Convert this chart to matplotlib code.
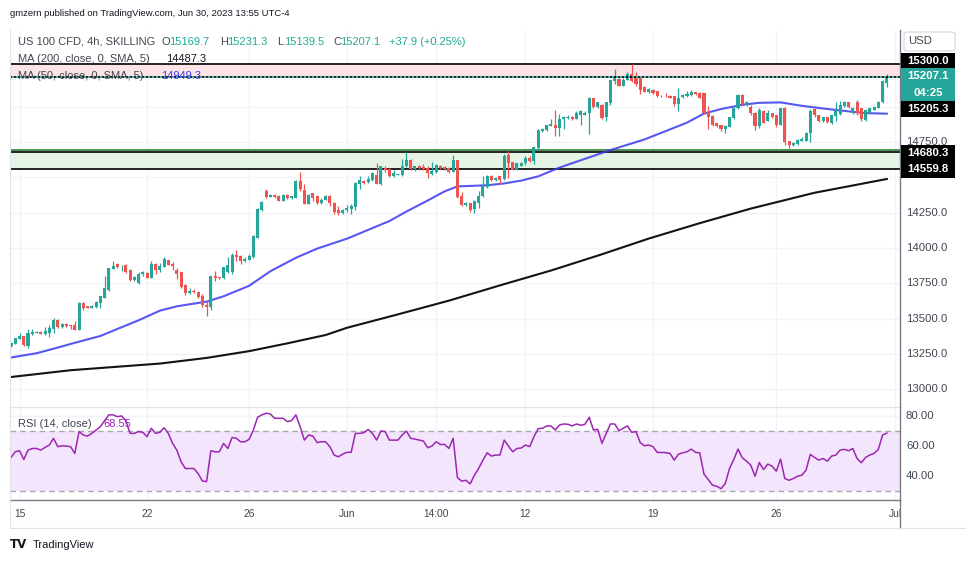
import numpy as np
import matplotlib.pyplot as plt
from matplotlib.patches import Rectangle, FancyBboxPatch
from matplotlib.transforms import blended_transform_factory

plt.rcParams['font.family'] = ['Liberation Sans', 'DejaVu Sans']

# ---- US 100 CFD 4h bars (bar 1 .. 207) ----
bar_open = [
    13305, 13319, 13358, 13377, 13305, 13394, 13401, 13408, 13389, 13401,
    13430, 13492, 13439, 13463, 13456, 13454, 13420, 13612, 13586, 13578,
    13581, 13607, 13648, 13703, 13852, 13886, 13862, 13876, 13847, 13775,
    13749, 13814, 13826, 13787, 13886, 13847, 13866, 13914, 13888, 13847,
    13828, 13737, 13679, 13696, 13689, 13660, 13598, 13583, 13799, 13792,
    13785, 13828, 13828, 13948, 13943, 13905, 13914, 13934, 14073, 14265,
    14399, 14363, 14375, 14370, 14332, 14375, 14351, 14356, 14471, 14409,
    14313, 14385, 14366, 14318, 14340, 14364, 14321, 14269, 14245, 14269,
    14276, 14286, 14454, 14473, 14464, 14478, 14518, 14449, 14568, 14559,
    14511, 14516, 14516, 14578, 14625, 14559, 14578, 14573, 14563, 14525,
    14535, 14582, 14573, 14568, 14540, 14620, 14364, 14302, 14317, 14274,
    14321, 14364, 14431, 14511, 14478, 14506, 14487, 14654, 14606, 14554,
    14582, 14597, 14635, 14616, 14706, 14824, 14834, 14862, 14872, 14848,
    14910, 14919, 14929, 14915, 14938, 14943, 14953, 15062, 14995, 15014,
    14924, 15024, 15178, 15195, 15147, 15190, 15228, 15209, 15199, 15138,
    15100, 15119, 15109, 15076, 15076, 15076, 15071, 15019, 15066, 15076,
    15081, 15100, 15095, 15095, 14962, 14934, 14881, 14872, 14843, 14858,
    14919, 14986, 15081, 15010, 15000, 14957, 14862, 14967, 14900, 14953,
    14938, 14872, 14991, 14753, 14730, 14734, 14758, 14758, 14810, 14981,
    14938, 14896, 14924, 14886, 14934, 14948, 15005, 15029, 14957, 15029,
    14986, 14905, 14962, 14976, 14991, 15029, 15169.7]
bar_high = [
    13335, 13362, 13396, 13380, 13425, 13425, 13412, 13410, 13439, 13454,
    13502, 13499, 13466, 13468, 13458, 13485, 13614, 13614, 13590, 13598,
    13624, 13662, 13799, 13860, 13905, 13893, 13878, 13883, 13852, 13804,
    13828, 13838, 13828, 13905, 13895, 13895, 13934, 13917, 13900, 13857,
    13830, 13742, 13715, 13708, 13696, 13672, 13624, 13799, 13838, 13795,
    13864, 13936, 13962, 13982, 13948, 13934, 13960, 14092, 14284, 14332,
    14414, 14380, 14380, 14375, 14378, 14378, 14370, 14478, 14538, 14452,
    14380, 14390, 14370, 14351, 14376, 14376, 14328, 14298, 14276, 14305,
    14312, 14464, 14506, 14478, 14506, 14535, 14601, 14582, 14582, 14563,
    14549, 14525, 14630, 14677, 14630, 14582, 14587, 14592, 14582, 14606,
    14592, 14587, 14578, 14573, 14658, 14625, 14397, 14326, 14321, 14340,
    14402, 14511, 14516, 14514, 14500, 14511, 14663, 14682, 14611, 14600,
    14606, 14649, 14649, 14720, 14839, 14848, 14872, 14910, 14976, 14948,
    14934, 14943, 14934, 14967, 14976, 14967, 15066, 15062, 15033, 15019,
    15033, 15190, 15266, 15199, 15199, 15242, 15304, 15247, 15204, 15142,
    15133, 15123, 15109, 15078, 15095, 15081, 15076, 15133, 15085, 15109,
    15114, 15104, 15100, 15095, 15005, 14938, 14886, 14872, 14872, 14929,
    14995, 15085, 15085, 15038, 15014, 14962, 14986, 14972, 14972, 14957,
    14943, 14991, 14995, 14758, 14749, 14768, 14782, 14820, 14981, 14991,
    14943, 14929, 14929, 14943, 15029, 15038, 15038, 15033, 14995, 15048,
    14991, 14981, 14991, 15005, 15038, 15190, 15231.3]
bar_low = [
    13300, 13317, 13355, 13305, 13295, 13386, 13398, 13392, 13382, 13372,
    13401, 13434, 13436, 13444, 13430, 13418, 13418, 13564, 13574, 13576,
    13578, 13578, 13646, 13698, 13850, 13857, 13835, 13826, 13768, 13763,
    13742, 13804, 13785, 13785, 13816, 13828, 13864, 13878, 13847, 13780,
    13720, 13667, 13677, 13684, 13648, 13581, 13521, 13559, 13766, 13782,
    13782, 13823, 13818, 13910, 13886, 13900, 13912, 13932, 14070, 14260,
    14356, 14358, 14356, 14330, 14330, 14348, 14348, 14354, 14404, 14308,
    14310, 14332, 14308, 14308, 14336, 14293, 14241, 14231, 14241, 14257,
    14241, 14269, 14416, 14454, 14459, 14473, 14454, 14445, 14540, 14502,
    14502, 14514, 14511, 14573, 14554, 14544, 14554, 14554, 14492, 14516,
    14530, 14559, 14554, 14530, 14535, 14355, 14298, 14298, 14255, 14250,
    14283, 14359, 14426, 14473, 14475, 14454, 14478, 14492, 14549, 14549,
    14578, 14587, 14606, 14592, 14701, 14820, 14829, 14862, 14791, 14791,
    14843, 14915, 14905, 14910, 14872, 14938, 14805, 14991, 14991, 14915,
    14896, 15014, 15160, 15142, 15145, 15185, 15176, 15147, 15090, 15100,
    15095, 15085, 15066, 15068, 15068, 15057, 15005, 14967, 15062, 15066,
    15071, 15081, 15057, 14948, 14843, 14862, 14853, 14829, 14815, 14853,
    14915, 14981, 15014, 15005, 14938, 14834, 14848, 14881, 14896, 14919,
    14853, 14867, 14730, 14706, 14720, 14725, 14753, 14753, 14749, 14929,
    14891, 14891, 14886, 14877, 14900, 14943, 15000, 14991, 14948, 14938,
    14896, 14900, 14957, 14972, 14986, 15024, 15139.5]
bar_close = [
    13329, 13360, 13377, 13312, 13396, 13406, 13408, 13394, 13413, 13434,
    13492, 13444, 13461, 13449, 13449, 13420, 13612, 13576, 13578, 13588,
    13617, 13658, 13713, 13857, 13871, 13866, 13866, 13828, 13775, 13794,
    13814, 13828, 13787, 13886, 13847, 13871, 13919, 13881, 13871, 13816,
    13722, 13679, 13696, 13689, 13655, 13593, 13583, 13799, 13785, 13785,
    13862, 13881, 13948, 13934, 13910, 13924, 13943, 14082, 14274, 14327,
    14361, 14375, 14361, 14332, 14375, 14351, 14366, 14476, 14414, 14313,
    14375, 14356, 14318, 14342, 14364, 14321, 14257, 14245, 14269, 14279,
    14293, 14459, 14478, 14459, 14487, 14530, 14454, 14582, 14554, 14511,
    14530, 14521, 14582, 14625, 14559, 14578, 14563, 14559, 14530, 14544,
    14587, 14563, 14559, 14540, 14620, 14359, 14302, 14321, 14269, 14331,
    14364, 14440, 14511, 14478, 14497, 14483, 14649, 14597, 14554, 14597,
    14597, 14635, 14616, 14715, 14834, 14843, 14872, 14877, 14848, 14915,
    14929, 14929, 14915, 14957, 14967, 14957, 15062, 14995, 15029, 14919,
    15033, 15185, 15200, 15147, 15190, 15228, 15180, 15157, 15114, 15104,
    15123, 15095, 15071, 15071, 15071, 15062, 15019, 15062, 15081, 15090,
    15104, 15085, 15062, 14957, 14929, 14872, 14862, 14843, 14862, 14924,
    14991, 15081, 15019, 15029, 14953, 14862, 14976, 14886, 14957, 14929,
    14872, 14986, 14749, 14725, 14739, 14763, 14772, 14810, 14967, 14938,
    14896, 14924, 14891, 14938, 14967, 15014, 15029, 15000, 14986, 14957,
    14910, 14976, 14986, 15000, 15033, 15180, 15207.1]
change_abs = 37.9
change_pct = 0.25

# moving averages (bar number, value)
ma50_bar = [1, 7, 11, 17, 22, 27, 31, 36, 40, 47, 51, 57, 62, 68, 73, 80, 86,
            90, 94, 99, 103, 106, 113, 117, 121, 125, 130, 136, 142, 150, 156,
            160, 164, 168, 173, 177, 182, 187, 192, 197, 202, 207]
ma50_val = [13225, 13255, 13287, 13337, 13377, 13439, 13488, 13556, 13587,
            13620, 13658, 13732, 13835, 13930, 13995, 14065, 14140, 14190,
            14257, 14335, 14400, 14435, 14443, 14456, 14476, 14506, 14568,
            14630, 14692, 14767, 14838, 14886, 14950, 14982, 15012, 15026,
            15029, 15005, 14986, 14969, 14953, 14949.3]
ma200_bar = [1, 15, 36, 47, 57, 66, 75, 80, 92, 104, 116, 128, 140, 151, 163,
             175, 190, 207]
ma200_val = [13087, 13135, 13182, 13222, 13270, 13325, 13384, 13435, 13530,
             13627, 13735, 13840, 13955, 14066, 14175, 14278, 14390, 14487.3]

# RSI(14)
rsi_bar = [1, 2, 3, 4, 5, 6, 7, 8, 9, 10, 11, 12, 13, 14, 15, 16, 17, 18, 19,
           20, 22, 24, 25, 26, 27, 28, 29, 30, 31, 32, 33, 34, 35, 36, 37, 38,
           39, 40, 41, 42, 44, 45, 46, 47, 48, 49, 50, 51, 52, 53, 54, 55, 56,
           57, 58, 59, 60, 61, 62, 63, 65, 66, 67, 68, 69, 70, 71, 72, 73, 74,
           75, 76, 77, 78, 79, 80, 81, 82, 83, 84, 85, 86, 87, 88, 89, 90, 92,
           93, 94, 95, 96, 98, 99, 100, 101, 102, 103, 104, 105, 106, 107, 108,
           109, 110, 111, 112, 113, 114, 115, 116, 117, 118, 119, 120, 121,
           122, 123, 124, 125, 126, 127, 128, 129, 130, 131, 132, 133, 134,
           135, 136, 137, 138, 139, 140, 141, 142, 143, 144, 145, 146, 147,
           148, 149, 150, 151, 152, 153, 155, 156, 157, 158, 159, 160, 161,
           162, 163, 164, 165, 166, 167, 168, 169, 170, 171, 172, 173, 174,
           175, 176, 177, 178, 179, 180, 181, 182, 183, 184, 185, 186, 187,
           188, 189, 190, 191, 192, 193, 194, 195, 196, 197, 198, 199, 200,
           201, 202, 203, 204, 205, 206, 207]
rsi_val = [52.3, 56.1, 56.8, 50.9, 57.2, 58.3, 58.3, 57.2, 59.0, 60.6, 65.1,
           59.5, 60.1, 59.9, 59.5, 55.0, 69.6, 67.3, 66.6, 68.4, 72.9, 80.8,
           80.8, 79.6, 80.1, 77.0, 68.4, 68.4, 69.6, 69.1, 66.2, 71.8, 68.4,
           69.1, 72.2, 68.4, 61.7, 57.2, 49.4, 44.9, 44.9, 41.5, 36.6, 36.1,
           56.8, 56.1, 56.1, 61.7, 58.3, 65.7, 65.1, 62.8, 62.8, 64.4, 70.7,
           79.2, 80.8, 81.9, 81.4, 78.5, 78.5, 76.3, 77.0, 80.8, 72.9, 63.9,
           67.3, 66.6, 62.2, 62.8, 62.8, 59.5, 53.9, 52.7, 54.5, 55.7, 55.7,
           68.4, 68.4, 68.9, 71.1, 68.4, 63.9, 70.0, 69.6, 63.9, 63.9, 67.3,
           70.0, 65.1, 64.6, 63.3, 58.8, 59.9, 62.8, 61.0, 61.0, 58.3, 65.1,
           38.8, 36.4, 37.0, 34.6, 40.4, 45.0, 50.5, 55.4, 53.2, 53.9, 53.9,
           63.9, 59.9, 56.1, 58.3, 58.6, 60.6, 59.5, 66.2, 71.6, 71.8, 73.4,
           73.4, 70.7, 74.0, 74.7, 74.5, 73.4, 74.7, 73.8, 74.5, 79.2, 70.7,
           71.1, 61.7, 68.4, 74.7, 74.7, 70.2, 71.8, 73.4, 69.1, 69.6, 62.2,
           60.1, 60.6, 59.5, 55.7, 55.5, 55.0, 50.5, 54.5, 55.4, 56.1, 57.9,
           55.7, 55.4, 41.1, 37.5, 33.7, 33.0, 31.4, 34.8, 44.9, 50.9, 57.9,
           52.1, 49.8, 47.1, 39.7, 48.9, 44.2, 47.8, 46.5, 43.1, 51.2, 38.2,
           37.0, 38.2, 39.7, 40.4, 43.8, 54.3, 52.3, 50.5, 51.6, 49.8, 53.2,
           53.9, 57.2, 57.7, 56.8, 58.3, 51.6, 48.7, 52.3, 53.9, 55.0, 57.7,
           67.3, 68.55]

tick_bar = [3, 33, 57, 80, 101, 122, 152, 181, 209]
tick_text = ['15', '22', '26', 'Jun', '14:00', '12', '19', '26', 'Jul']
price_grid = [13000, 13250, 13500, 13750, 14000, 14250, 14500, 14750, 15000, 15250]
price_shown = [13000, 13250, 13500, 13750, 14000, 14250, 14750]
rsi_grid = [40, 60, 80]
sell_zone = (15205.3, 15300.0)
buy_zone = (14559.8, 14680.3)
last_close = 15207.1

# ---- layout helpers (pixel -> figure fraction) ----
W, H = 970, 563
def fx(x):
    return x / W
def fy(y):
    return 1 - y / H

UP, DOWN = '#26a69a', '#ef5350'
GRID = '#f0f3fa'
TXT = '#434651'

fig = plt.figure(figsize=(W / 100, H / 100), dpi=100)
fig.patch.set_facecolor('white')

ax = fig.add_axes([fx(10), fy(406), fx(900) - fx(10), fy(30) - fy(406)])
rs = fig.add_axes([fx(10), fy(500), fx(900) - fx(10), fy(408) - fy(500)])
ta = fig.add_axes([fx(10), fy(528), fx(900) - fx(10), fy(500) - fy(528)])

xmin, xmax = 0.76, 210.1
for a in (ax, rs, ta):
    a.set_xlim(xmin, xmax)
    a.set_xticks([])
    a.set_yticks([])
    for s in a.spines.values():
        s.set_visible(False)
ax.set_ylim(12882, 15541)
rs.set_ylim(23.8, 85.4)
ta.set_ylim(0, 1)

# grid
for p in price_grid:
    ax.axhline(p, color=GRID, lw=1, zorder=0)
for b in tick_bar:
    ax.axvline(b, color=GRID, lw=1, zorder=0)
    rs.axvline(b, color=GRID, lw=1, zorder=0)
for g in rsi_grid:
    rs.axhline(g, color=GRID, lw=1, zorder=0)

# zones
ax.axhspan(sell_zone[0], sell_zone[1], color='#fce4e6', lw=0, zorder=1)
ax.axhline(sell_zone[1], color='black', lw=1.2, zorder=2)
ax.axhspan(buy_zone[0], buy_zone[1], color='#e6f4e6', lw=0, zorder=1)
ax.axhline(buy_zone[1] + 14, color='#2e7d32', lw=1.2, zorder=2)
ax.axhline(buy_zone[1], color='black', lw=1.2, zorder=2)
ax.axhline(buy_zone[0], color='black', lw=1.2, zorder=2)

# candles
idx = np.arange(1, len(bar_close) + 1)
o = np.array(bar_open); h = np.array(bar_high)
l = np.array(bar_low); c = np.array(bar_close)
col = np.where(c >= o, UP, DOWN)
ax.vlines(idx, l, h, colors=col, lw=0.9, zorder=4)
ax.bar(idx, np.maximum(np.abs(c - o), 6), bottom=np.minimum(o, c),
       width=0.72, color=col, lw=0, zorder=5)

# moving averages
ax.plot(ma200_bar, ma200_val, color='#131313', lw=1.5, zorder=3)
ax.plot(ma50_bar, ma50_val, color='#3a3af0', lw=1.5, alpha=0.85, zorder=3)

# last price line
ax.axhline(last_close, color='black', lw=1.2, ls=(0, (1.2, 1.2)), zorder=6)
ax.axhline(last_close, color=UP, lw=1.2, ls=(1.2, (1.2, 1.2)), zorder=6)

# RSI pane
rs.axhspan(30, 70, color='#f3e6fc', lw=0, zorder=1)
rs.axhline(70, color='#a8a8b0', lw=1, ls=(0, (4, 3)), zorder=2)
rs.axhline(30, color='#a8a8b0', lw=1, ls=(0, (4, 3)), zorder=2)
rs.plot(rsi_bar, rsi_val, color='#9c27b0', lw=1.1, zorder=3)

# time axis
for b, t in zip(tick_bar, tick_text):
    ta.text(b, 0.5, t, ha='center', va='center', fontsize=7.4, color=TXT,
            clip_on=True)

# frame lines
fig.add_artist(plt.Line2D([fx(10), fx(900)], [fy(500), fy(500)], color='#787b86', lw=1))
fig.add_artist(plt.Line2D([fx(10), fx(900)], [fy(407), fy(407)], color='#e0e3eb', lw=1))
fig.add_artist(plt.Line2D([fx(900.5), fx(900.5)], [fy(30), fy(528)], color='#787b86', lw=1))
fig.add_artist(plt.Line2D([fx(10), fx(965)], [fy(528), fy(528)], color='#e0e3eb', lw=0.8))
fig.add_artist(plt.Line2D([fx(10), fx(10)], [fy(30), fy(528)], color='#e0e3eb', lw=0.8))

# right price scale
tr = blended_transform_factory(fig.transFigure, ax.transData)
for p in price_shown:
    ax.text(fx(906), p, f'{p:.1f}', transform=tr, fontsize=8.2, color=TXT,
            va='center', ha='left', clip_on=False, zorder=4)
trr = blended_transform_factory(fig.transFigure, rs.transData)
for g in rsi_grid:
    rs.text(fx(906), g, f'{g:.2f}', transform=trr, fontsize=8.2, color=TXT,
            va='center', ha='left', clip_on=False)


def tag(y0, y1, fc, lines):
    fig.add_artist(Rectangle((fx(901), fy(y1)), fx(955) - fx(901), fy(y0) - fy(y1),
                             transform=fig.transFigure, fc=fc, ec='none', zorder=8))
    step = (y1 - y0) / len(lines)
    for k, s in enumerate(lines):
        fig.text(fx(928), fy(y0 + step * (k + 0.5)), s, ha='center', va='center',
                 fontsize=8.2, color='white', fontweight='bold', zorder=9)


tag(53, 68, 'black', [f'{sell_zone[1]:.1f}'])
tag(68, 101, UP, [f'{last_close:.1f}', '04:25'])
tag(101, 117, 'black', [f'{sell_zone[0]:.1f}'])
tag(145, 161, 'black', [f'{buy_zone[1]:.1f}'])
tag(161, 178, 'black', [f'{buy_zone[0]:.1f}'])

fig.add_artist(FancyBboxPatch((fx(904), fy(51)), fx(955) - fx(904), fy(32) - fy(51),
                              boxstyle='round,pad=0,rounding_size=0.004',
                              transform=fig.transFigure, fc='white', ec='#d1d4dc',
                              lw=0.8, zorder=10))
fig.text(fx(908), fy(41.5), 'USD', fontsize=8.2, color=TXT, va='center', zorder=11)

# header and legends
fig.text(fx(10), fy(13), 'gmzern published on TradingView.com, Jun 30, 2023 13:55 UTC-4',
         fontsize=6.8, color='#131722', va='center')
LEG = 8.0
fig.text(fx(18), fy(42), 'US 100 CFD, 4h, SKILLING', fontsize=LEG, color=TXT, va='center')
ohlc = [('O', f'{bar_open[-1]:.1f}', 162), ('H', f'{bar_high[-1]:.1f}', 220),
        ('L', f'{bar_low[-1]:.1f}', 277), ('C', f'{bar_close[-1]:.1f}', 333)]
for k, v, xp in ohlc:
    fig.text(fx(xp), fy(42), k, fontsize=LEG, color=TXT, va='center')
    fig.text(fx(xp + 7), fy(42), v, fontsize=LEG, color='#22ab94', va='center')
fig.text(fx(389), fy(42), f'+{change_abs:.1f} (+{change_pct:.2f}%)',
         fontsize=LEG, color='#22ab94', va='center')
fig.text(fx(18), fy(59), 'MA (200, close, 0, SMA, 5)', fontsize=LEG, color=TXT, va='center')
fig.text(fx(166), fy(59), f'{ma200_val[-1]:.1f}', fontsize=LEG, color='#131722', va='center')
fig.text(fx(18), fy(76), 'MA (50, close, 0, SMA, 5)', fontsize=LEG, color=TXT, va='center', zorder=1)
fig.text(fx(161), fy(76), f'{ma50_val[-1]:.1f}', fontsize=LEG, color='#3a3af0', va='center', zorder=1)
fig.text(fx(18), fy(424), 'RSI (14, close)', fontsize=LEG, color=TXT, va='center')
fig.text(fx(103), fy(424), f'{rsi_val[-1]:.2f}', fontsize=LEG, color='#9c27b0', va='center')

# footer logo
fig.text(fx(10), fy(545), 'TV', fontsize=8.5, fontweight='bold', color='#131722',
         va='center', family='DejaVu Sans')
fig.text(fx(33), fy(545), 'TradingView', fontsize=8, color='#131722', va='center')

fig.savefig('out.png', dpi=100, facecolor='white')
